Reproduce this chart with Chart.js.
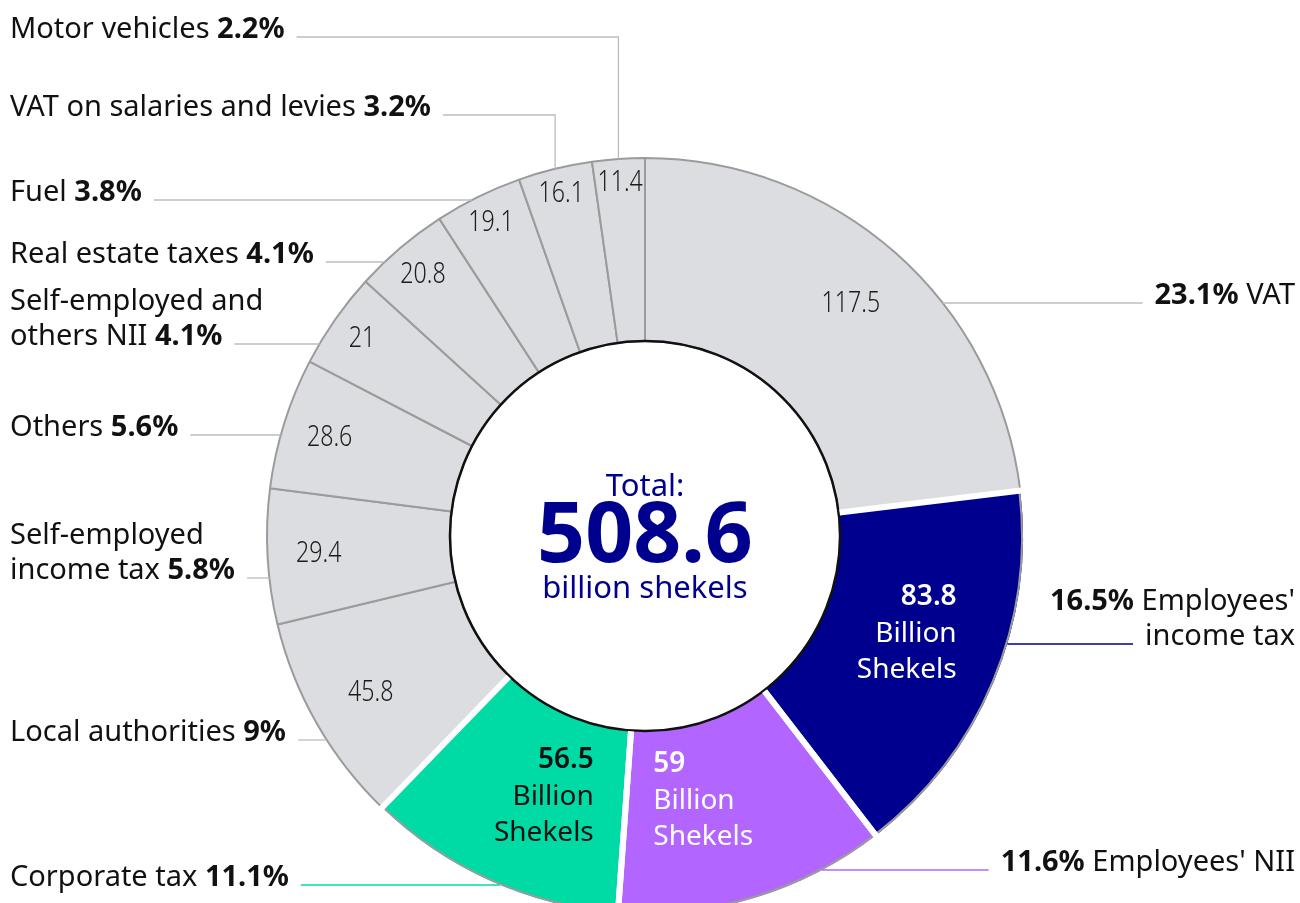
<!DOCTYPE html>
<html lang="en">
<head>
<meta charset="UTF-8">
<title>Tax revenue</title>
<script src="https://cdn.jsdelivr.net/npm/chart.js"></script>
<style>
    body {
        margin: 0;
        overflow: hidden;
        background: #fff;
    }
    .wrap {
        position: relative;
        width: 1300px;
        height: 960px;
    }
</style>
</head>
<body>
<div class="wrap"><canvas id="taxChart"></canvas></div>
<script>
    // Slices, clockwise from 12 o'clock
    const categories = [
        ['VAT'],
        ["Employees'", 'income tax'],
        ["Employees' NII"],
        ['Corporate tax'],
        ['Local authorities'],
        ['Self-employed', 'income tax'],
        ['Others'],
        ['Self-employed and', 'others NII'],
        ['Real estate taxes'],
        ['Fuel'],
        ['VAT on salaries and levies'],
        ['Motor vehicles']
    ];
    const values = [117.5, 83.8, 59, 56.5, 45.8, 29.4, 28.6, 21, 20.8, 19.1, 16.1, 11.4];
    const shares = [23.1, 16.5, 11.6, 11.1, 9, 5.8, 5.6, 4.1, 4.1, 3.8, 3.2, 2.2];
    const total = 508.6;

    // Styling per slice
    const sliceColors = ['#dcdde0', '#00008f', '#b266ff', '#00dba6', '#dcdde0', '#dcdde0',
                         '#dcdde0', '#dcdde0', '#dcdde0', '#dcdde0', '#dcdde0', '#dcdde0'];
    const highlight = [false, true, true, true, false, false, false, false, false, false, false, false];
    const leaderColors = ['#b7bec2', '#00008f', '#b266ff', '#00dba6', '#b7bec2', '#b7bec2',
                          '#b7bec2', '#b7bec2', '#b7bec2', '#b7bec2', '#b7bec2', '#b7bec2'];

    // Outside label layout
    const labelSide = ['right', 'right', 'right', 'left', 'left', 'left', 'left', 'left', 'left', 'left', 'left', 'left'];
    const labelY = [304, 645, 871, 886, 741, 579, 436, 345, 263, 201, 116, 38];
    const labelElbow = [false, false, false, false, false, false, false, false, false, false, true, true];
    // inside value label: position across ring thickness (0 inner .. 1 outer)
    const valueRadius = [0.63, 0, 0, 0, 0.66, 0.72, 0.74, 0.82, 0.81, 0.84, 0.86, 0.87];
    // big labels on coloured slices
    const bigAlign = [null, 'right', 'left', 'right'];
    const bigShiftX = [0, 58, -71, 61];
    const bigShiftY = [0, -8, 2, 10];
    const bigText = [null, '#ffffff', '#ffffff', '#111111'];

    const FONT = '"Noto Sans", sans-serif';
    const LEFT_X = 10, RIGHT_X = 1295, LINE_H = 35, GAP = 12;

    function fontFor(p) {
        return (p.bold ? '700 ' : '400 ') + '29px ' + FONT;
    }
    function richWidth(ctx, parts) {
        return parts.reduce((w, p) => { ctx.font = fontFor(p); return w + ctx.measureText(p.t).width; }, 0);
    }
    function drawRich(ctx, parts, x, y) {
        parts.forEach(p => {
            ctx.font = fontFor(p);
            ctx.fillText(p.t, x, y);
            x += ctx.measureText(p.t).width;
        });
    }

    const labelPlugin = {
        id: 'sliceLabels',
        afterDatasetsDraw(chart) {
            const ctx = chart.ctx;
            const arcs = chart.getDatasetMeta(0).data;
            const cx = arcs[0].x, cy = arcs[0].y;
            const R = arcs[0].outerRadius, r0 = arcs[0].innerRadius;
            ctx.save();

            // inner outline
            ctx.strokeStyle = '#111';
            ctx.lineWidth = 2.5;
            ctx.beginPath();
            ctx.arc(cx, cy, r0, 0, Math.PI * 2);
            ctx.stroke();

            // rim and white gaps on coloured slices
            arcs.forEach((arc, i) => {
                if (!highlight[i]) return;
                ctx.strokeStyle = '#9b9b9b';
                ctx.lineWidth = 2;
                ctx.beginPath();
                ctx.arc(cx, cy, R - 1, arc.startAngle, arc.endAngle);
                ctx.stroke();
                ctx.strokeStyle = '#fff';
                ctx.lineWidth = 6;
                [arc.startAngle, arc.endAngle].forEach(a => {
                    ctx.beginPath();
                    ctx.moveTo(cx + (r0 + 1) * Math.cos(a), cy + (r0 + 1) * Math.sin(a));
                    ctx.lineTo(cx + (R + 3) * Math.cos(a), cy + (R + 3) * Math.sin(a));
                    ctx.stroke();
                });
            });

            // values inside slices
            ctx.textBaseline = 'middle';
            arcs.forEach((arc, i) => {
                const a = (arc.startAngle + arc.endAngle) / 2;
                if (highlight[i]) {
                    const rr = 275;
                    const px = cx + rr * Math.cos(a) + bigShiftX[i];
                    const py = cy + rr * Math.sin(a) + bigShiftY[i];
                    ctx.textAlign = bigAlign[i];
                    ctx.fillStyle = bigText[i];
                    ctx.font = '600 28px ' + FONT;
                    ctx.fillText(String(values[i]), px, py - 37);
                    ctx.font = '400 28px ' + FONT;
                    ctx.fillText('Billion', px, py);
                    ctx.fillText('Shekels', px, py + 36);
                } else {
                    const rr = r0 + (R - r0) * valueRadius[i];
                    ctx.save();
                    ctx.translate(cx + rr * Math.cos(a), cy + rr * Math.sin(a));
                    ctx.scale(0.8, 1);
                    ctx.textAlign = 'center';
                    ctx.fillStyle = '#1c1c1c';
                    ctx.font = '300 29px ' + FONT;
                    ctx.fillText(String(values[i]), 0, 0);
                    ctx.restore();
                }
            });

            // outside labels with leader lines
            ctx.textAlign = 'left';
            ctx.textBaseline = 'alphabetic';
            arcs.forEach((arc, i) => {
                const side = labelSide[i];
                const lines = categories[i].map(t => [{ t: t, bold: false }]);
                const pct = { t: shares[i] + '%', bold: true };
                if (side === 'left') {
                    lines[lines.length - 1].push({ t: ' ', bold: false }, pct);
                } else {
                    lines[0].unshift(pct, { t: ' ', bold: false });
                }
                const n = lines.length;
                ctx.fillStyle = '#111';
                lines.forEach((parts, k) => {
                    const by = labelY[i] - (n - 1 - k) * LINE_H;
                    const w = richWidth(ctx, parts);
                    drawRich(ctx, parts, side === 'left' ? LEFT_X : RIGHT_X - w, by);
                });

                const lastW = richWidth(ctx, lines[n - 1]);
                const ly = labelY[i] - 1;
                const startX = side === 'left' ? LEFT_X + lastW + GAP : RIGHT_X - lastW - GAP;
                ctx.strokeStyle = leaderColors[i];
                ctx.lineWidth = 1.3;
                ctx.beginPath();
                ctx.moveTo(startX, ly);
                if (labelElbow[i]) {
                    const a = (arc.startAngle + arc.endAngle) / 2;
                    const ex = cx + R * Math.cos(a);
                    ctx.lineTo(ex, ly);
                    ctx.lineTo(ex, cy + R * Math.sin(a));
                } else {
                    const dy = ly - cy;
                    const dx = Math.sqrt(Math.max(R * R - dy * dy, 0));
                    ctx.lineTo(side === 'left' ? cx - dx : cx + dx, ly);
                }
                ctx.stroke();
            });

            // centre total
            ctx.textAlign = 'center';
            ctx.textBaseline = 'middle';
            ctx.fillStyle = '#00008f';
            ctx.font = '400 31px ' + FONT;
            ctx.fillText('Total:', cx, cy - 49);
            ctx.font = '700 84px ' + FONT;
            ctx.fillText(String(total), cx, cy + 2);
            ctx.font = '400 31px ' + FONT;
            ctx.fillText('billion shekels', cx, cy + 53);
            ctx.restore();
        }
    };

    const ctx = document.getElementById('taxChart').getContext('2d');
    const taxChart = new Chart(ctx, {
        type: 'doughnut',
        data: {
            labels: categories.map(c => c.join(' ')),
            datasets: [{
                data: values,
                backgroundColor: sliceColors,
                borderColor: highlight.map(h => h ? 'rgba(0,0,0,0)' : '#9b9b9b'),
                borderWidth: highlight.map(h => h ? 0 : 2)
            }]
        },
        options: {
            responsive: true,
            maintainAspectRatio: false,
            animation: false,
            cutout: '51.6%',
            layout: {
                padding: { left: 266, top: 157, right: 276, bottom: 45 }
            },
            plugins: {
                legend: { display: false },
                tooltip: { enabled: false }
            }
        },
        plugins: [labelPlugin]
    });
</script>
</body>
</html>
